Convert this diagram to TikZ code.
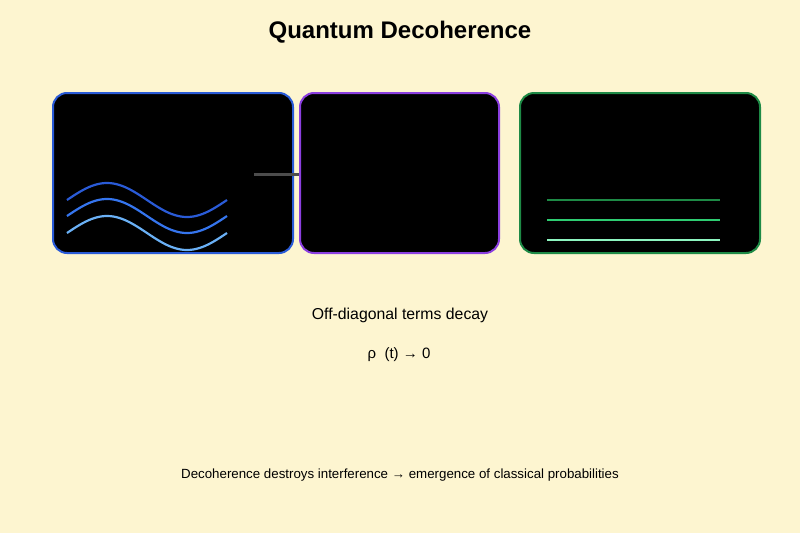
\documentclass[tikz,border=0pt]{standalone}
\usepackage{fontspec}
\setmainfont{Liberation Sans}
\begin{document}
\begin{tikzpicture}[x=1pt,y=-1pt,
  panel/.style={fill=black,rounded corners=14pt,line width=2pt},
  wave/.style={line width=2.2pt,domain=0:160,samples=60,smooth},
  gline/.style={line width=2pt}]
\definecolor{bg}{HTML}{FDF5D0}
\definecolor{wa}{HTML}{2A5BD7}
\definecolor{wb}{HTML}{3575EE}
\definecolor{wc}{HTML}{6AB0F5}
\definecolor{pp}{HTML}{8B3FE0}
\definecolor{gd}{HTML}{1E8A46}
\definecolor{gm}{HTML}{2ECC71}
\definecolor{gl}{HTML}{8EF5C0}
\fill[bg] (0,0) rectangle (800,533);
\useasboundingbox (0,0) rectangle (800,533);
\node[font=\bfseries\fontsize{24}{28}\selectfont] (title) at (400,32) {Quantum Decoherence};
\draw[panel,draw=wa] (53,93) rectangle (293,253);
\draw[panel,draw=pp] (300,93) rectangle (499,253);
\draw[panel,draw=gd] (520,93) rectangle (760,253);
\coordinate (ca) at (254,174);
\coordinate (cb) at (299,174);
\draw[line width=3pt,color=black!70] (ca) -- (cb);
\draw[wave,wa] plot ({67+\x},{200-17*sin(2.25*\x)});
\draw[wave,wb] plot ({67+\x},{216-17*sin(2.25*\x)});
\draw[wave,wc] plot ({67+\x},{233-17*sin(2.25*\x)});
\draw[gline,gd] (547,200) -- (720,200);
\draw[gline,gm] (547,220) -- (720,220);
\draw[gline,gl] (547,240) -- (720,240);
\node[font=\fontsize{15.8}{18}\selectfont] (off) at (400,315) {Off-diagonal terms decay};
\node[font=\fontsize{15}{18}\selectfont] (rho) at (399,355) {ρ\ \ (t) → 0};
\node[font=\fontsize{13.3}{16}\selectfont] (foot) at (400,475) {Decoherence destroys interference → emergence of classical probabilities};
\end{tikzpicture}
\end{document}
